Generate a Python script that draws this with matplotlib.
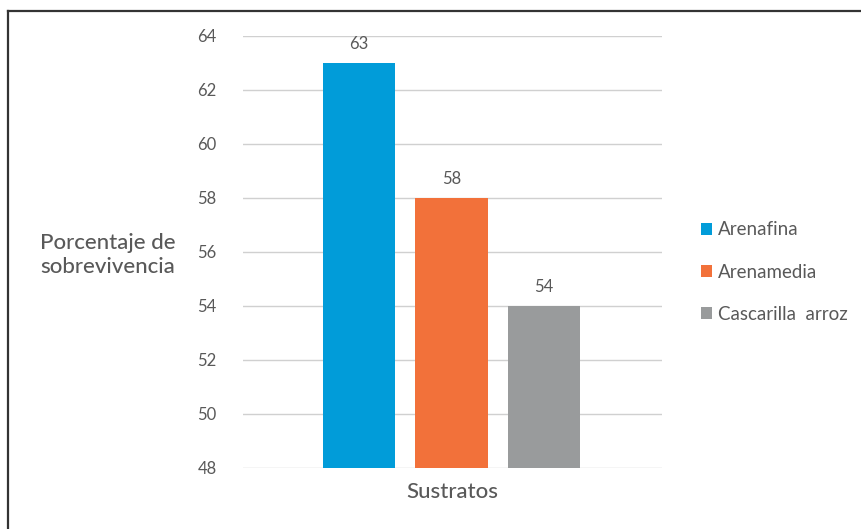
import matplotlib
matplotlib.use("Agg")
import matplotlib.pyplot as plt
from matplotlib.lines import Line2D
from matplotlib.patches import Patch

categories = ["Arenafina", "Arenamedia", "Cascarilla  arroz"]
values = [63, 58, 54]
colors = ["#019CD9", "#F2713A", "#999B9C"]
yticks = [48, 50, 52, 54, 56, 58, 60, 62, 64]

plt.rcParams["font.family"] = ["Lato", "DejaVu Sans"]
text_color = "#595959"

fig = plt.figure(figsize=(8.62, 5.29), dpi=100)
fig.patch.set_facecolor("white")

# outer frame: top and left edges only
fig.add_artist(Line2D([8.5 / 862, 1.0], [1 - 11 / 529, 1 - 11 / 529],
                      transform=fig.transFigure, color="#333333", lw=1.6))
fig.add_artist(Line2D([8.5 / 862, 8.5 / 862], [0.0, 1 - 11 / 529],
                      transform=fig.transFigure, color="#333333", lw=1.6))

ax = fig.add_axes([243 / 862, 1 - 468 / 529, 419 / 862, 432 / 529])
x = list(range(len(categories)))
bars = ax.bar(x, values, width=0.78, color=colors, bottom=0, zorder=3)

ax.set_ylim(48, 64)
ax.set_xlim(-1.254, 3.276)
ax.set_yticks(yticks)
ax.set_yticklabels([str(t) for t in yticks], color=text_color, fontsize=12)
ax.tick_params(axis="y", length=0, pad=19)
ax.set_xticks([])
ax.grid(axis="y", color="#D0D0D0", lw=1, zorder=0)
for s in ax.spines.values():
    s.set_visible(False)

for xi, v in zip(x, values):
    ax.annotate(str(v), (xi, v), xytext=(0, 8), textcoords="offset points",
                ha="center", va="bottom", color=text_color, fontsize=12)

fig.text(452 / 862, 1 - 492 / 529, "Sustratos", ha="center", va="center",
         color=text_color, fontsize=16, fontweight="medium")
fig.text(40 / 862, 1 - 255 / 529, "Porcentaje de\nsobrevivencia", ha="left",
         va="center", color=text_color, fontsize=16, fontweight="medium",
         linespacing=1.25)

handles = [Patch(facecolor=c, edgecolor="none") for c in colors]
fig.legend(handles, categories, loc="center left",
           bbox_to_anchor=(684 / 862, 1 - 272 / 529), frameon=False,
           prop={"size": 13.5}, labelcolor=text_color, handlelength=0.6,
           handleheight=0.6, handletextpad=0.3, labelspacing=1.35)

fig.savefig("out.png", dpi=100)
